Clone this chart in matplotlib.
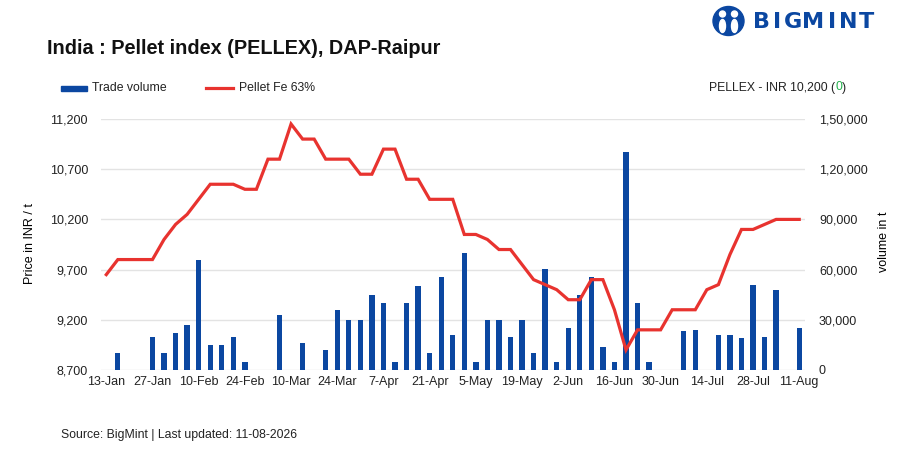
import numpy as np
import matplotlib.pyplot as plt
from matplotlib.patches import Rectangle, Ellipse
from matplotlib.lines import Line2D
from matplotlib.ticker import FuncFormatter

plt.rcParams['font.family'] = ['Liberation Sans', 'DejaVu Sans']

# twice-weekly assessments, 13-Jan .. 11-Aug
price = [9650, 9800, 9800, 9800, 9800, 10000, 10150, 10250, 10400, 10550,
         10550, 10550, 10500, 10500, 10800, 10800, 11150, 11000, 11000, 10800,
         10800, 10800, 10650, 10650, 10900, 10900, 10600, 10600, 10400, 10400,
         10400, 10050, 10050, 10000, 9900, 9900, 9750, 9600, 9550, 9500,
         9400, 9400, 9600, 9600, 9300, 8900, 9100, 9100, 9100, 9300,
         9300, 9300, 9500, 9550, 9850, 10100, 10100, 10150, 10200, 10200,
         10200]
volume = [0, 10000, 0, 0, 20000, 10000, 22000, 27000, 65500, 15000,
          15000, 20000, 5000, 0, 0, 33000, 0, 16000, 0, 12000,
          36000, 30000, 30000, 45000, 40000, 5000, 40000, 50000, 10000, 55500,
          21000, 70000, 5000, 30000, 30000, 20000, 30000, 10000, 60500, 5000,
          25000, 45000, 55500, 14000, 5000, 130500, 40000, 5000, 0, 0,
          23500, 24000, 0, 21000, 21000, 19000, 51000, 20000, 48000, 0,
          25000]
tick_labels = ['13-Jan', '27-Jan', '10-Feb', '24-Feb', '10-Mar', '24-Mar', '7-Apr', '21-Apr',
               '5-May', '19-May', '2-Jun', '16-Jun', '30-Jun', '14-Jul', '28-Jul', '11-Aug']

BLUE = '#0b47a1'
RED = '#e8332f'
W, H = 918, 451


def fx(x):
    return x / W


def fy(y):
    return 1 - y / H


def indian(v, pos=None):
    v = int(round(v))
    s = str(v)
    if len(s) <= 3:
        return s
    head, tail = s[:-3], s[-3:]
    parts = []
    while len(head) > 2:
        parts.insert(0, head[-2:])
        head = head[:-2]
    if head:
        parts.insert(0, head)
    return ','.join(parts + [tail])


fig = plt.figure(figsize=(W / 100, H / 100), dpi=100)
ax2 = fig.add_axes([fx(100.5), fy(370), 704.5 / W, 251 / H])
ax = ax2.twinx()
ax.yaxis.tick_left()
ax2.yaxis.tick_right()

x = np.arange(len(price))
ax2.bar(x, volume, width=0.46, color=BLUE, zorder=2)
ax2.set_ylim(0, 150000)
ax2.set_yticks(np.arange(0, 150001, 30000))
ax2.yaxis.set_major_formatter(FuncFormatter(indian))
ax2.grid(axis='y', color='#e3e3e3', linewidth=1, zorder=0)
ax2.set_axisbelow(True)

ax.plot(x, price, color=RED, linewidth=2.3, solid_joinstyle='miter')
ax.set_ylim(8700, 11200)
ax.set_yticks(np.arange(8700, 11201, 500))
ax.yaxis.set_major_formatter(FuncFormatter(lambda v, p: f'{int(v):,}'))
ax.set_zorder(ax2.get_zorder() + 1)
ax.patch.set_visible(False)

ax2.set_xlim(-0.5, len(price) - 0.5)
ax2.set_xticks(np.arange(0, len(price), 4))
ax2.set_xticklabels(tick_labels)

for a in (ax, ax2):
    for s in a.spines.values():
        s.set_visible(False)
    a.tick_params(length=0, labelsize=9, colors='#222222')
ax.tick_params(axis='y', pad=9)
ax2.tick_params(axis='y', pad=10)
ax2.tick_params(axis='x', pad=4)

# titles and annotations
fig.text(fx(47), fy(48), 'India : Pellet index (PELLEX), DAP-Raipur', fontsize=14.3,
         fontweight='bold', va='center', ha='left', color='#111111')
fig.text(fx(30), fy(244), 'Price in INR / t', rotation=90, fontsize=9, va='center', ha='center')
fig.text(fx(884), fy(242), 'volume in t', rotation=90, fontsize=9, va='center', ha='center')
fig.text(fx(61), fy(435), 'Source: BigMint | Last updated: 11-08-2026', fontsize=8.8,
         va='center', ha='left', color='#222222')

# legend
fig.patches.append(Rectangle((fx(61), fy(90.5)), 26 / W, 4.5 / H, color=BLUE,
                             transform=fig.transFigure))
fig.lines.append(Line2D([fx(206), fx(233)], [fy(88.3), fy(88.3)], color=RED, linewidth=2.3,
                        transform=fig.transFigure))
fig.text(fx(92), fy(88), 'Trade volume', fontsize=8.8, va='center', ha='left', color='#222222')
fig.text(fx(239), fy(88), 'Pellet Fe 63%', fontsize=8.8, va='center', ha='left', color='#222222')

fig.text(fx(835), fy(87.5), 'PELLEX - INR 10,200 (', fontsize=8.8, va='center', ha='right',
         color='#222222')
fig.text(fx(835), fy(87.5), '0', fontsize=8.8, va='center', ha='left', color='#22b14c')
fig.text(fx(841.5), fy(87.5), ')', fontsize=8.8, va='center', ha='left', color='#222222')

# logo
fig.patches.append(Ellipse((fx(728.5), fy(21)), 31 / W, 29 / H, transform=fig.transFigure,
                           color=BLUE))
for cx in (722.5, 734.5):
    fig.patches.append(Ellipse((fx(cx), fy(14)), 6 / W, 6 / H, transform=fig.transFigure,
                               color='white'))
    fig.patches.append(Ellipse((fx(cx), fy(26)), 6 / W, 13 / H, transform=fig.transFigure,
                               color='white'))
letters = 'BIGMINT'
lx = [761.5, 777, 793, 813.5, 832.5, 848.5, 866.5]
for ch, px in zip(letters, lx):
    fig.text(fx(px), fy(22), ch, fontsize=16, fontweight='heavy', color=BLUE,
             family='DejaVu Sans', ha='center', va='center')

fig.savefig('out.png', dpi=100)
